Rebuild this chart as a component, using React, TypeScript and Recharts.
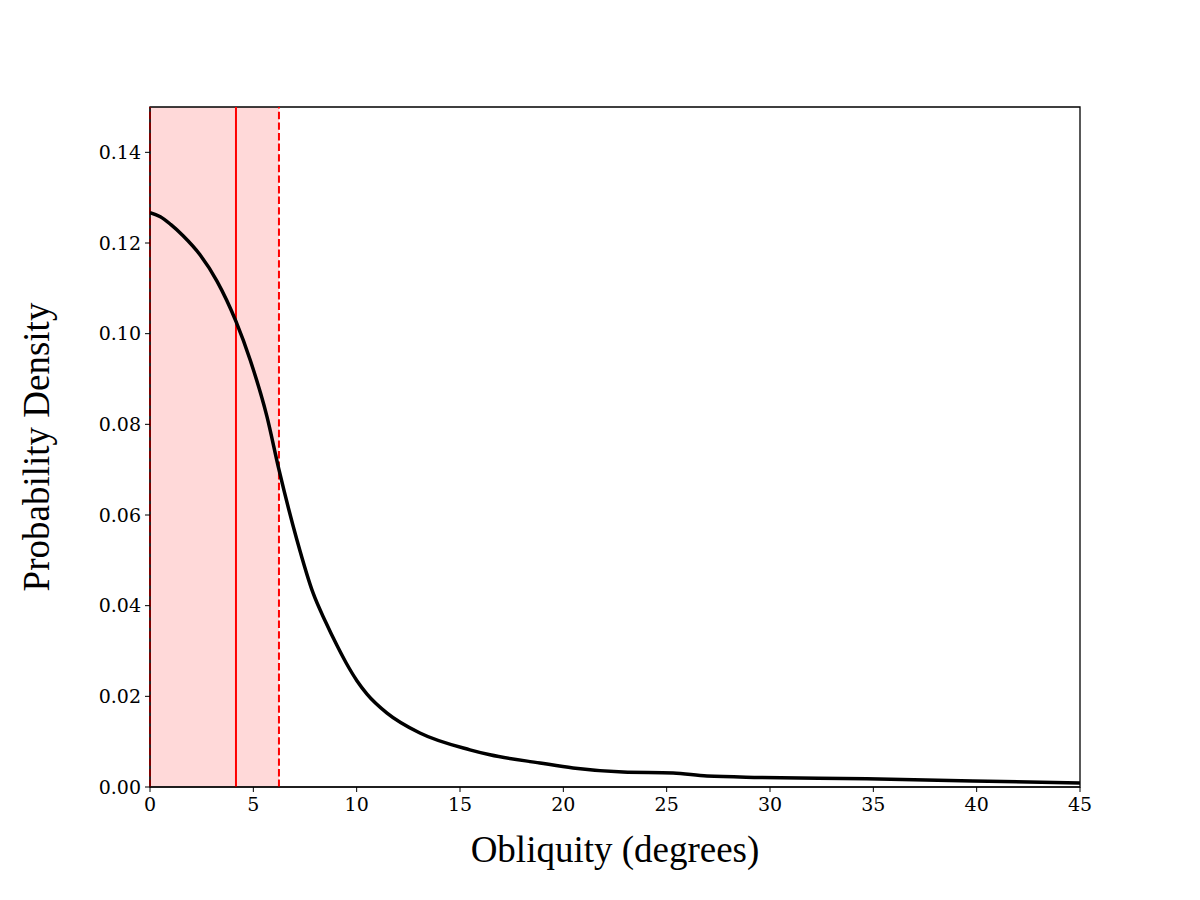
import React from 'react';
import {
  ComposedChart, Line, XAxis, YAxis, ReferenceArea, ReferenceLine, Label,
} from 'recharts';

// KDE of obliquity
const obliquity = [0, 0.5, 1.0, 1.6, 2.42, 3.24, 4.16, 4.84, 5.66, 6.24, 7.11, 7.89, 8.5, 9.05, 9.5, 10.02, 10.5, 11.47, 13.06, 15.48, 16.45, 18.87, 20.47, 22.89, 25.31, 26.95, 29.52, 34.69, 39.82, 45];
const density = [0.1267, 0.1258, 0.1241, 0.1216, 0.1174, 0.1116, 0.1027, 0.0943, 0.0817, 0.07, 0.0545, 0.0428, 0.0364, 0.0312, 0.0273, 0.0234, 0.0205, 0.0163, 0.0119, 0.0082, 0.0071, 0.0053, 0.0042, 0.0033, 0.0031, 0.0024, 0.0021, 0.0018, 0.0013, 0.0009];

const xTicks = [0, 5, 10, 15, 20, 25, 30, 35, 40, 45];
const yTicks = [0, 0.02, 0.04, 0.06, 0.08, 0.1, 0.12, 0.14];

const median = 4.16;
const lower = 0;
const upper = 6.24;

const data = obliquity.map((x, i) => ({ x, y: density[i] }));

const FONT = '"Liberation Serif", serif';
const TICK_FONT = '"DejaVu Serif", serif';

if (typeof document !== 'undefined') document.body.style.margin = '0';

const App: React.FC = () => {
  const tickStyle = { fontFamily: TICK_FONT, fontSize: 19, fill: '#000' };
  return (
    <div style={{ width: 1200, height: 900, background: '#fff' }}>
      <ComposedChart
        width={1200}
        height={900}
        data={data}
        margin={{ top: 107, right: 120, bottom: 33, left: 90 }}
      >
        <XAxis
          dataKey="x"
          type="number"
          domain={[0, 45]}
          ticks={xTicks}
          allowDataOverflow
          height={80}
          tickSize={5}
          stroke="#000"
          tick={tickStyle}
          tickMargin={6}
        >
          <Label
            value="Obliquity (degrees)"
            position="insideBottom"
            offset={5}
            style={{ fontFamily: FONT, fontSize: 37, fill: '#000' }}
          />
        </XAxis>
        <YAxis
          type="number"
          domain={[0, 0.15]}
          ticks={yTicks}
          allowDataOverflow
          width={60}
          tickSize={5}
          stroke="#000"
          tick={tickStyle}
          tickMargin={4}
          tickFormatter={(v: number) => v.toFixed(2)}
        >
          <Label
            value="Probability Density"
            angle={-90}
            position="insideLeft"
            offset={-54}
            style={{ fontFamily: FONT, fontSize: 37, fill: '#000', textAnchor: 'middle' }}
          />
        </YAxis>
        <ReferenceArea x1={lower} x2={upper} y1={0} y2={0.15} fill="#ff0000" fillOpacity={0.15} stroke="none" />
        <ReferenceArea x1={0} x2={45} y1={0} y2={0.15} fill="none" stroke="#000" strokeWidth={1.3} />
        <ReferenceLine x={median} stroke="#ff0000" strokeWidth={2} />
        <ReferenceLine x={upper} stroke="#ff0000" strokeWidth={2} strokeDasharray="7.4 3.2" />
        <ReferenceLine x={lower} stroke="#ff0000" strokeWidth={2} strokeDasharray="7.4 3.2" />
        <Line
          dataKey="y"
          type="monotone"
          stroke="#000"
          strokeWidth={3.5}
          dot={false}
          isAnimationActive={false}
        />
      </ComposedChart>
    </div>
  );
};

export default App;
